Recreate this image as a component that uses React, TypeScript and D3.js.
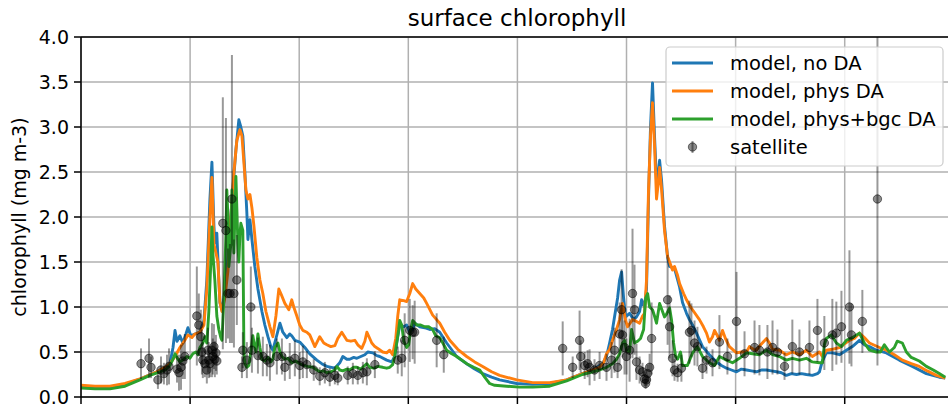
import React from 'react';
import * as d3 from 'd3';

// ---------- data ----------
const xTicks = [0, 60, 120, 180, 240, 300, 360, 420];
const yTicks = [0, 0.5, 1, 1.5, 2, 2.5, 3, 3.5, 4];
const yTickLabels = ['0.0', '0.5', '1.0', '1.5', '2.0', '2.5', '3.0', '3.5', '4.0'];
const seriesNames = ['model, no DA', 'model, phys DA', 'model, phys+bgc DA', 'satellite'];
const seriesColors = ['#1f77b4', '#ff7f0e', '#2ca02c'];

// [day, chlorophyll]
const modelNoDA: [number, number][] = [
[0,.12],[7.7,.11],[15.9,.11],[24.2,.14],[32.4,.2],[40.7,.27],[46.2,.33],[48.9,.37],[50.6,.55],[51.7,.74],[52.8,.62],[54.4,.68],[56.0,.6],[57.7,.7],[58.8,.77],[60.4,.68],[62.6,.7],[65.4,.72],[67.6,.85],[69.2,1.3],[70.9,2.2],[72.0,2.61],[73.1,1.9],[73.6,1.71],[74.7,1.82],[75.8,1.3],[76.4,1.05],[77.5,.97],[78.6,1.1],[80.2,1.4],[81.9,1.9],[83.5,2.3],[85.2,2.75],[86.8,3.08],[87.9,3.0],[89.0,2.9],[90.1,2.5],[91.2,2.05],[91.8,1.75],[92.9,1.97],[94.0,1.75],[95.6,1.45],[97.3,1.2],[99.5,.95],[101.1,.8],[102.8,.67],[104.4,.56],[105.5,.52],[107.2,.65],[109.4,.82],[111.0,.72],[113.2,.66],[114.8,.7],[115.9,.68],[117.6,.63],[120.3,.61],[123.1,.55],[125.8,.48],[129.7,.41],[132.4,.37],[135.2,.34],[139.6,.32],[142.3,.38],[144.0,.45],[146.2,.42],[147.8,.42],[150.0,.44],[151.7,.43],[153.9,.45],[156.1,.47],[157.7,.5],[160.5,.49],[162.7,.46],[164.3,.45],[168.1,.41],[170.9,.39],[172.5,.45],[173.6,.6],[175.3,.8],[177.5,.78],[179.1,.8],[180.8,.72],[182.4,.75],[183.5,.82],[186.3,.78],[189.0,.77],[191.8,.75],[194.5,.76],[197.3,.72],[201.1,.6],[206.6,.45],[212.1,.37],[216.5,.31],[220.9,.26],[225.8,.22],[230.2,.19],[239.6,.15],[248.4,.14],[257.7,.15],[267.1,.19],[275.8,.26],[281.3,.3],[286.8,.37],[289.0,.45],[290.7,.6],[292.3,.75],[293.4,.89],[295.1,1.1],[296.2,1.3],[297.3,1.39],[298.4,1.1],[299.5,.89],[301.7,.93],[303.9,.86],[305.5,.89],[307.2,.95],[308.3,1.08],[309.9,1.0],[311.0,1.2],[312.1,2.2],[313.2,3.0],[314.3,3.49],[315.4,2.9],[316.5,2.4],[317.6,2.5],[318.2,2.63],[319.3,2.4],[320.9,1.9],[322.6,1.55],[323.7,1.45],[326.4,1.43],[329.2,1.22],[330.8,1.05],[333.0,.93],[334.6,.86],[336.3,.8],[338.5,.71],[341.8,.56],[345.6,.47],[349.5,.39],[352.2,.35],[355.0,.32],[357.7,.3],[360.5,.28],[363.2,.31],[366.0,.3],[368.7,.29],[371.5,.28],[374.2,.3],[377.0,.3],[379.7,.29],[382.5,.28],[385.2,.27],[387.9,.24],[390.7,.26],[393.5,.25],[396.2,.26],[398.9,.25],[402.2,.24],[405.0,.26],[406.1,.28],[407.7,.4],[409.9,.49],[413.2,.49],[417.1,.47],[420.9,.52],[424.2,.56],[428.1,.63],[430.8,.58],[433.6,.56],[437.4,.52],[442.9,.49],[450.0,.41],[457.2,.34],[464.9,.26],[472.0,.22],[475.3,.21]
];

const modelPhysDA: [number, number][] = [
[0,.13],[7.7,.12],[15.9,.12],[24.2,.15],[32.4,.2],[40.7,.27],[46.2,.33],[48.9,.37],[51.7,.45],[54.4,.55],[57.1,.63],[58.8,.69],[61.0,.66],[62.6,.7],[65.4,.72],[67.6,.8],[69.2,1.2],[70.9,2.0],[72.0,2.44],[73.1,1.7],[74.2,1.6],[75.3,1.5],[76.4,1.05],[77.5,.95],[79.1,1.1],[80.8,1.4],[82.4,2.0],[84.1,2.5],[85.7,2.85],[87.4,2.97],[88.5,2.9],[89.6,2.6],[90.7,2.3],[91.8,2.2],[92.9,2.25],[94.0,2.1],[95.1,1.9],[96.7,1.55],[98.4,1.3],[100.0,1.15],[101.7,.95],[103.9,.78],[105.5,.67],[107.2,.9],[108.8,1.2],[109.9,1.15],[112.1,1.04],[114.3,.97],[115.9,1.08],[117.0,1.0],[118.7,.9],[120.3,.8],[122.0,.74],[124.2,.72],[125.8,.69],[128.6,.56],[131.3,.67],[133.5,.6],[135.2,.58],[137.4,.56],[139.6,.57],[141.2,.65],[143.4,.72],[146.2,.63],[148.4,.62],[150.6,.63],[152.2,.58],[154.4,.54],[156.1,.62],[157.2,.72],[158.8,.65],[159.9,.6],[161.6,.56],[163.2,.54],[165.9,.5],[168.1,.49],[169.8,.52],[171.4,.47],[173.1,.65],[174.2,.9],[175.3,1.08],[177.5,1.07],[179.1,1.06],[180.8,1.15],[182.4,1.26],[184.1,1.2],[186.3,1.15],[188.5,1.1],[190.1,1.04],[193.4,.91],[197.3,.82],[200.0,.72],[202.8,.63],[207.2,.53],[212.1,.45],[216.5,.39],[220.9,.34],[225.8,.28],[230.2,.24],[239.6,.19],[248.4,.16],[257.7,.16],[267.1,.19],[275.8,.26],[285.2,.33],[287.4,.38],[289.0,.48],[290.7,.53],[292.3,.63],[294.5,.75],[296.2,.86],[297.8,1.04],[299.5,.85],[300.6,.78],[303.3,.86],[305.5,.84],[307.2,.82],[308.8,.9],[309.9,.93],[311.0,1.3],[312.1,2.3],[313.2,2.9],[314.3,3.27],[315.4,2.8],[316.5,2.2],[317.6,2.4],[318.2,2.55],[319.3,2.3],[320.9,1.85],[322.6,1.56],[323.7,1.5],[325.3,1.41],[326.4,1.45],[328.1,1.35],[329.2,1.26],[331.4,1.15],[333.0,1.08],[334.6,1.02],[336.3,.97],[340.1,.86],[342.3,.78],[344.0,.71],[345.6,.61],[347.3,.67],[348.4,.74],[350.0,.68],[351.1,.63],[352.8,.74],[354.4,.65],[356.6,.56],[360.5,.49],[363.2,.5],[366.0,.5],[367.6,.56],[369.8,.53],[371.5,.52],[374.2,.59],[377.0,.65],[378.6,.6],[380.3,.53],[384.1,.52],[387.9,.47],[391.2,.5],[395.1,.47],[398.9,.52],[402.2,.45],[406.1,.5],[407.7,.45],[409.9,.52],[413.2,.53],[417.1,.55],[422.6,.63],[425.3,.65],[428.1,.71],[430.8,.66],[433.6,.6],[439.1,.55],[442.9,.52],[447.3,.47],[451.7,.41],[456.6,.37],[461.0,.34],[465.4,.29],[470.4,.24],[475.3,.21]
];

const modelPhysBgcDA: [number, number][] = [
[0,.1],[7.7,.09],[15.9,.09],[24.2,.12],[32.4,.19],[37.9,.24],[43.4,.28],[46.2,.3],[48.9,.35],[50.6,.42],[51.7,.48],[53.3,.42],[54.4,.39],[56.6,.42],[58.2,.45],[59.9,.43],[61.5,.48],[63.2,.5],[64.3,.47],[65.4,.55],[67.0,.6],[68.1,.67],[69.2,.6],[70.3,.95],[71.4,1.5],[72.0,1.89],[72.5,1.6],[73.6,1.3],[74.7,.9],[75.8,.75],[76.9,.66],[77.5,.63],[78.6,1.1],[79.7,1.8],[80.2,2.3],[80.8,2.0],[81.3,1.45],[82.4,1.7],[83.0,2.3],[83.5,2.0],[84.1,1.6],[84.6,2.0],[85.2,2.45],[85.7,2.1],[86.3,1.7],[86.8,1.5],[87.4,1.8],[87.9,1.93],[89.0,1.85],[89.6,.5],[90.1,.37],[91.2,.33],[92.3,.35],[93.4,.5],[94.5,.68],[95.6,.55],[96.2,.5],[97.3,.7],[98.4,.55],[99.5,.42],[101.1,.4],[102.8,.44],[104.4,.39],[105.5,.42],[106.6,.55],[108.3,.6],[109.4,.5],[110.5,.45],[112.1,.42],[113.7,.43],[115.9,.38],[118.1,.4],[120.3,.37],[122.5,.35],[124.7,.34],[127.5,.33],[129.7,.3],[131.3,.28],[133.5,.29],[135.2,.27],[137.4,.28],[139.6,.3],[140.7,.34],[142.3,.3],[144.0,.29],[146.2,.31],[147.8,.3],[150.0,.33],[151.7,.33],[153.9,.31],[155.5,.34],[157.2,.37],[158.8,.33],[161.0,.32],[163.2,.34],[165.9,.33],[168.1,.32],[169.8,.33],[171.4,.36],[172.5,.45],[173.6,.6],[174.7,.75],[175.3,.85],[176.4,.8],[177.5,.62],[179.1,.55],[180.2,.58],[181.3,.75],[182.4,.85],[184.6,.8],[186.8,.8],[189.0,.78],[191.2,.78],[193.4,.75],[195.1,.68],[197.3,.66],[199.5,.58],[201.1,.52],[203.9,.48],[206.6,.45],[209.4,.41],[212.1,.37],[216.0,.33],[219.3,.3],[222.0,.22],[224.7,.15],[227.5,.13],[234.1,.12],[241.2,.11],[248.4,.11],[257.7,.12],[267.1,.18],[275.8,.25],[285.2,.3],[289.0,.33],[292.3,.37],[294.5,.42],[296.2,.48],[297.8,.6],[298.9,.63],[300.0,.52],[301.7,.5],[302.8,.75],[304.4,.6],[306.1,.62],[307.7,.65],[309.4,.75],[310.5,1.1],[311.6,1.15],[312.7,1.0],[314.3,.97],[315.4,.9],[316.5,.82],[318.2,1.04],[319.8,.95],[320.9,.89],[322.0,.92],[323.7,.99],[324.8,.85],[325.9,.6],[327.0,.45],[328.1,.42],[329.7,.5],[330.8,.35],[333.5,.35],[336.3,.49],[339.0,.56],[341.8,.45],[345.6,.38],[348.4,.35],[351.1,.45],[355.0,.41],[358.3,.38],[362.1,.43],[366.0,.49],[369.3,.48],[373.1,.47],[377.0,.52],[380.3,.47],[384.1,.45],[387.9,.41],[391.2,.43],[395.1,.41],[398.9,.43],[402.2,.39],[406.1,.38],[407.7,.38],[408.8,.58],[409.9,.65],[412.7,.69],[415.4,.6],[418.2,.56],[420.9,.63],[424.2,.66],[428.1,.71],[430.8,.6],[433.6,.52],[437.4,.5],[439.6,.5],[441.8,.58],[444.6,.5],[447.3,.55],[448.9,.62],[451.7,.6],[453.9,.5],[456.6,.44],[461.0,.4],[464.9,.34],[468.7,.3],[472.0,.26],[475.3,.22]
];

// satellite: [day, value, error]
const satellite: [number, number, number][] = [
[33.0,.37,.17],[37.4,.43,.22],[38.5,.33,.12],[42.3,.19,.1],[44.0,.3,.15],[45.6,.26,.12],[47.3,.3,.17],[48.4,.34,.2],[52.8,.31,.15],[53.9,.27,.2],[55.0,.33,.25],[56.0,.4,.2],[57.1,.45,.25],
[63.7,.9,.55],[64.8,.8,.35],[65.9,.67,.3],[66.5,.5,.25],[67.0,.41,.2],[68.1,.37,.15],[69.2,.3,.15],[69.8,.52,.25],[70.3,.41,.2],[70.9,.37,.15],[72.0,.52,.3],[72.5,.45,.2],[73.1,.56,.25],[73.6,.42,.2],[74.2,.49,.2],[74.7,.4,.15],
[78.0,1.93,1.4],[79.7,1.85,1.25],[80.8,1.15,.5],[81.9,1.15,.55],[83.0,2.2,1.6],[84.1,1.15,.6],[85.7,1.3,.5],[88.5,.33,.12],[89.0,.52,.2],[91.2,.41,.2],[93.4,1.0,.45],[94.0,.52,.25],[97.3,.46,.2],
[100.0,.45,.22],[102.2,.41,.18],[103.9,.38,.2],[107.7,.45,.2],[110.5,.45,.2],[112.1,.33,.15],[114.8,.4,.2],[117.6,.43,.2],[120.3,.35,.15],[122.0,.39,.18],[124.2,.36,.15],[128.0,.3,.12],[131.3,.23,.1],[134.1,.27,.12],[136.8,.22,.1],[139.6,.24,.1],[141.2,.21,.08],[146.7,.24,.1],[149.5,.26,.12],[152.2,.24,.1],[155.0,.27,.12],[157.2,.28,.15],[161.6,.36,.15],
[174.2,.41,.15],[176.4,.43,.2],[178.0,.63,.3],[180.8,.74,.35],[182.4,.72,.3],[183.5,.72,.35],[195.6,.63,.3],[199.5,.47,.2],
[264.9,.54,.3],[270.4,.33,.12],[274.2,.63,.33],[274.8,.45,.18],[277.0,.35,.15],[278.6,.37,.15],[279.7,.33,.2],[282.4,.3,.12],[285.2,.35,.15],[289.0,.33,.15],[291.8,.41,.2],[293.4,.52,.25],[295.1,.33,.12],[296.2,.7,.35],[297.3,.97,.45],[297.8,.69,.25],[298.9,.55,.3],[300.0,.45,.2],[301.7,.52,.35],[303.3,1.15,.72],[304.4,.97,.5],[305.5,.39,.2],[307.2,.3,.15],[308.8,.28,.1],[309.9,.2,.08],[310.5,.15,.06],[311.0,.19,.07],[311.6,.26,.1],[312.7,.33,.15],[313.8,.65,.4],
[322.6,1.08,.5],[323.7,.78,.35],[325.3,.43,.2],[326.4,.3,.12],[328.1,.27,.1],[330.2,.32,.15],[334.6,.72,.35],[335.7,.74,.3],[337.4,.6,.25],[339.0,.56,.22],[341.8,.32,.12],[344.0,.41,.15],[347.3,.38,.15],[351.1,.61,.3],[355.5,.45,.2],[360.5,.84,.55],[364.9,.48,.25],[370.4,.55,.3],[373.1,.52,.28],[377.5,.5,.3],[380.3,.55,.3],[383.0,.5,.25],[386.9,.34,.15],[391.2,.56,.3],[395.1,.5,.25],[400.6,.55,.3],[405.0,.74,.35],[408.8,.6,.3],[413.2,.69,.4],[415.4,.71,.35],[418.2,.78,.4],[422.6,1.0,.63],[423.7,.69,.35],[429.7,.84,.35],[438.0,2.2,1.85]
];

// ---------- layout ----------
const W = 948;
const H = 408;
const left = 81;
const right = 952;
const top = 37;
const bottom = 397;
const FONT = "'DejaVu Sans', sans-serif";

export default function App() {
  const x = d3.scaleLinear().domain([0, 479]).range([left, right]);
  const y = d3.scaleLinear().domain([0, 4]).range([bottom, top]);
  const line = d3.line<[number, number]>().x(d => x(d[0])).y(d => y(d[1]));
  const models = [modelNoDA, modelPhysDA, modelPhysBgcDA];

  const lgX = 666, lgY = 47, lgW = 277, lgH = 119;
  const rowY = [63, 91, 119, 147];

  return (
    <svg width={W} height={H} style={{ position: 'absolute', left: 0, top: 0, background: '#fff' }} fontFamily={FONT}>
      <defs>
        <clipPath id="plot">
          <rect x={left} y={top} width={right - left} height={bottom - top} />
        </clipPath>
      </defs>
      <rect x={0} y={0} width={W} height={H} fill="#fff" />
      {/* grid */}
      <g stroke="#b0b0b0" strokeWidth={1.5}>
        {xTicks.map(t => <line key={'gx' + t} x1={x(t)} x2={x(t)} y1={top} y2={bottom} />)}
        {yTicks.map(t => <line key={'gy' + t} x1={left} x2={right} y1={y(t)} y2={y(t)} />)}
      </g>
      {/* model lines */}
      <g clipPath="url(#plot)" fill="none" strokeWidth={2.9} strokeLinejoin="round" strokeLinecap="butt">
        {models.map((m, i) => <path key={i} d={line(m) || ''} stroke={seriesColors[i]} />)}
      </g>
      {/* satellite */}
      <g clipPath="url(#plot)">
        {satellite.map((s, i) => (
          <line key={'e' + i} x1={x(s[0])} x2={x(s[0])} y1={y(s[1] - s[2])} y2={y(s[1] + s[2])} stroke="#000" strokeOpacity={0.4} strokeWidth={2} />
        ))}
        {satellite.map((s, i) => (
          <circle key={'c' + i} cx={x(s[0])} cy={y(s[1])} r={4.2} fill="#000" fillOpacity={0.45} stroke="#000" strokeOpacity={0.5} strokeWidth={1} />
        ))}
      </g>
      {/* spines */}
      <g stroke="#000" strokeWidth={1.5} fill="none">
        <line x1={left} x2={left} y1={top} y2={bottom} />
        <line x1={left} x2={right} y1={bottom} y2={bottom} />
        <line x1={left} x2={right} y1={top} y2={top} />
        <line x1={right} x2={right} y1={top} y2={bottom} />
      </g>
      {/* ticks */}
      <g stroke="#000" strokeWidth={1.5}>
        {xTicks.map(t => <line key={'tx' + t} x1={x(t)} x2={x(t)} y1={bottom} y2={bottom + 7} />)}
        {yTicks.map(t => <line key={'ty' + t} x1={left - 7} x2={left} y1={y(t)} y2={y(t)} />)}
      </g>
      <g fontSize={19} fill="#000" textAnchor="end">
        {yTicks.map((t, i) => <text key={'l' + t} x={left - 12} y={y(t)} dy="0.36em">{yTickLabels[i]}</text>)}
      </g>
      <text transform={`translate(25.5,${(top + bottom) / 2}) rotate(-90)`} textAnchor="middle" fontSize={19}>chlorophyll (mg m-3)</text>
      <text x={(left + 953) / 2} y={25.5} textAnchor="middle" fontSize={23}>surface chlorophyll</text>
      {/* legend */}
      <g>
        <rect x={lgX} y={lgY} width={lgW} height={lgH} rx={4} fill="#fff" fillOpacity={0.8} stroke="#cccccc" strokeWidth={1.2} />
        {seriesColors.map((c, i) => (
          <line key={'lg' + i} x1={672} x2={713} y1={rowY[i]} y2={rowY[i]} stroke={c} strokeWidth={2.9} />
        ))}
        <line x1={692.5} x2={692.5} y1={rowY[3] - 6} y2={rowY[3] + 6} stroke="#000" strokeOpacity={0.4} strokeWidth={2} />
        <circle cx={692.5} cy={rowY[3]} r={4.2} fill="#000" fillOpacity={0.45} stroke="#000" strokeOpacity={0.5} strokeWidth={1} />
        {seriesNames.map((n, i) => (
          <text key={'lt' + i} x={730} y={rowY[i]} dy="0.36em" fontSize={19.5}>{n}</text>
        ))}
      </g>
    </svg>
  );
}
